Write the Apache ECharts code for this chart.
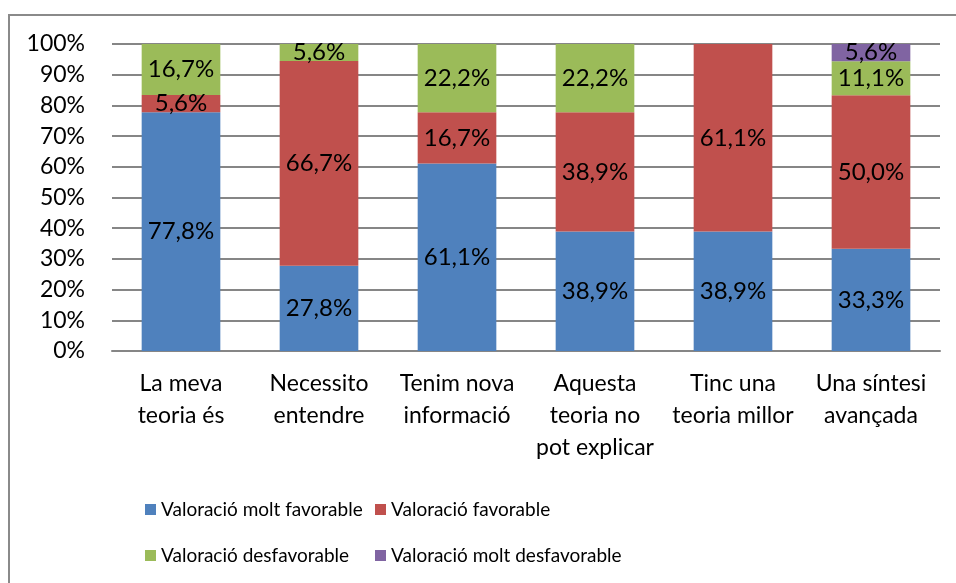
<!DOCTYPE html>
<html>
<head>
<meta charset="utf-8">
<script src="https://cdn.jsdelivr.net/npm/echarts@6/dist/echarts.min.js"></script>
<style>
  html, body { margin: 0; padding: 0; background: #fff; }
  #chart { width: 956px; height: 583px; }
</style>
</head>
<body>
<div id="chart"></div>
<script>
// categories (eix x)
var categories = ['La meva\nteoria és', 'Necessito\nentendre', 'Tenim nova\ninformació',
    'Aquesta\nteoria no\npot explicar', 'Tinc una\nteoria millor', 'Una síntesi\navançada'];

// percentatges per serie
var moltFavorable = [77.8, 27.8, 61.1, 38.9, 38.9, 33.3];
var favorable = [5.6, 66.7, 16.7, 38.9, 61.1, 50.0];
var desfavorable = [16.7, 5.6, 22.2, 22.2, 0, 11.1];
var moltDesfavorable = [0, 0, 0, 0, 0, 5.6];

var yTicks = [0, 10, 20, 30, 40, 50, 60, 70, 80, 90, 100];

var fontName = 'Lato';

function pct(p) {
    if (!p.value) return '';
    return p.value.toFixed(1).replace('.', ',') + '%';
}

function serie(name, data, color) {
    return {
        name: name,
        type: 'bar',
        stack: 'total',
        barWidth: '57%',
        data: data,
        itemStyle: { color: color },
        label: {
            show: true,
            position: 'inside',
            formatter: pct,
            color: '#000',
            fontSize: 24,
            fontFamily: fontName
        }
    };
}

// una llegenda per element, per quadrar les columnes com l'original
function legendItem(name, left, top) {
    return {
        data: [name],
        left: left,
        top: top,
        itemWidth: 11,
        itemHeight: 11,
        icon: 'rect',
        itemGap: 5,
        textStyle: { fontSize: 19, fontFamily: fontName, color: '#000' },
        selectedMode: false
    };
}

var myChart = echarts.init(document.getElementById('chart'));
var option = {
    animation: false,
    graphic: [{
        type: 'rect',
        shape: { x: 9, y: 15, width: 960, height: 600 },
        style: { fill: 'none', stroke: '#8a8a8a', lineWidth: 2 },
        silent: true
    }],
    grid: { left: 112, right: 16, top: 44, bottom: 232 },
    legend: [
        legendItem('Valoració molt favorable', 140, 495),
        legendItem('Valoració favorable', 370, 495),
        legendItem('Valoració desfavorable', 140, 541),
        legendItem('Valoració molt desfavorable', 370, 541)
    ],
    xAxis: {
        type: 'category',
        data: categories,
        axisTick: { show: false },
        axisLine: { lineStyle: { color: '#868686', width: 2 } },
        axisLabel: {
            color: '#000',
            fontSize: 23,
            fontFamily: fontName,
            lineHeight: 32,
            margin: 17,
            interval: 0
        }
    },
    yAxis: {
        type: 'value',
        min: yTicks[0],
        max: yTicks[yTicks.length - 1],
        interval: 10,
        axisLine: { show: false },
        axisTick: { show: false },
        axisLabel: {
            formatter: '{value}%',
            color: '#000',
            fontSize: 23,
            fontFamily: fontName,
            margin: 27
        },
        splitLine: { lineStyle: { color: '#868686', width: 2 } }
    },
    series: [
        serie('Valoració molt favorable', moltFavorable, '#4F81BD'),
        serie('Valoració favorable', favorable, '#C0504D'),
        serie('Valoració desfavorable', desfavorable, '#9BBB59'),
        serie('Valoració molt desfavorable', moltDesfavorable, '#8064A2')
    ]
};
myChart.setOption(option);
</script>
</body>
</html>
